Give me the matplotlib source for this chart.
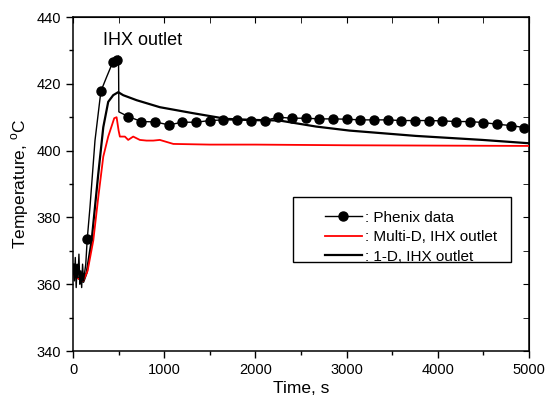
import matplotlib
matplotlib.use("Agg")
import matplotlib.pyplot as plt
from matplotlib.ticker import MultipleLocator
from matplotlib.patches import Rectangle

plt.rcParams['font.family'] = ['Liberation Sans', 'DejaVu Sans']
plt.rcParams['mathtext.fontset'] = 'custom'
plt.rcParams['mathtext.rm'] = 'Liberation Sans'

# Phenix measured data (dense line, markers on a subset)
phx_t = [0, 15, 25, 35, 45, 55, 65, 75, 85, 95, 105, 115, 125, 140, 156,
         186, 241, 306, 368, 438, 478, 499, 503, 605, 750, 900, 1050, 1200,
         1350, 1500, 1650, 1800, 1950, 2100, 2250, 2400, 2550, 2700, 2850,
         3000, 3150, 3300, 3450, 3600, 3750, 3900, 4050, 4200, 4350, 4500,
         4650, 4800, 4950, 5000]
phx_T = [365, 361, 368, 359, 366, 362, 369, 360, 364, 359, 366, 361, 363, 366, 373.5,
         383, 403, 417.8, 422, 426.6, 427.1, 428.3, 411.6, 410.2, 408.7, 408.6, 407.7,
         408.5, 408.5, 409.0, 409.2, 409.2, 409.0, 409.0, 410.0, 409.7, 409.7, 409.5,
         409.5, 409.4, 409.2, 409.2, 409.2, 409.0, 409.0, 409.0, 408.9, 408.7, 408.7,
         408.4, 407.9, 407.5, 406.9, 406.8]
phx_marks = [0, 14, 17, 19, 20] + list(range(23, 53))

# Multi-D, IHX outlet
md_t = [0, 50, 113, 160, 222, 277, 332, 386, 452, 478, 500, 514, 569, 605, 660,
        733, 806, 880, 952, 1100, 1500, 2000, 3000, 4000, 5000]
md_T = [362.8, 361.8, 361, 364, 373, 386, 398.2, 404.2, 409.7, 410, 406, 404.2, 404.2,
        403.2, 404.2, 403.2, 403, 403, 403.2, 402, 401.8, 401.8, 401.6, 401.5, 401.4]

# 1-D, IHX outlet
od_t = [0, 50, 113, 150, 204, 277, 332, 386, 441, 496, 550, 697, 952, 1317,
        1682, 1973, 2265, 2666, 3030, 3760, 4489, 5000]
od_T = [363, 362, 360.7, 363.5, 373, 393, 407, 414.6, 416.6, 417.5, 416.6, 415.1,
        413, 411.2, 409.5, 409.2, 409, 407.2, 406, 404.4, 403.2, 402.2]

fig = plt.figure(figsize=(5.46, 4.05), dpi=100)
ax = fig.add_axes([0.1337, 0.1333, 0.8352, 0.8247])

ax.plot(od_t, od_T, color='black', lw=1.6, label=': 1-D, IHX outlet', zorder=2)
ax.plot(md_t, md_T, color='red', lw=1.3, label=': Multi-D, IHX outlet', zorder=3)
ax.plot(phx_t, phx_T, color='black', lw=1.0, marker='o', ms=6.5,
        markevery=phx_marks, label=': Phenix data', zorder=4)

ax.set_xlim(0, 5000)
ax.set_ylim(340, 440)
ax.xaxis.set_major_locator(MultipleLocator(1000))
ax.xaxis.set_minor_locator(MultipleLocator(500))
ax.yaxis.set_major_locator(MultipleLocator(20))
ax.yaxis.set_minor_locator(MultipleLocator(10))
ax.tick_params(which='major', direction='out', length=5, width=1, labelsize=10.5)
ax.tick_params(which='minor', direction='out', length=3, width=1)
for s in ax.spines.values():
    s.set_linewidth(1.1)

# mirrored inward ticks on top and right
top = ax.secondary_xaxis('top')
top.xaxis.set_major_locator(MultipleLocator(1000))
top.xaxis.set_minor_locator(MultipleLocator(500))
top.tick_params(which='both', direction='in', length=4, labeltop=False)
right = ax.secondary_yaxis('right')
right.yaxis.set_major_locator(MultipleLocator(20))
right.yaxis.set_minor_locator(MultipleLocator(10))
right.tick_params(which='both', direction='in', length=4, labelright=False)

ax.set_xlabel('Time, s', fontsize=12.5, labelpad=3)
ax.set_ylabel(r'Temperature, $^{\rm o}$C', fontsize=12.5, labelpad=4)

ax.text(330, 433, 'IHX outlet', fontsize=13, va='center', ha='left')

h, l = ax.get_legend_handles_labels()
order = [2, 1, 0]
ax.legend([h[i] for i in order], [l[i] for i in order], loc='upper left',
          bbox_to_anchor=(0.552, 0.42), frameon=False, fontsize=11,
          handlelength=2.42, handletextpad=0.2, labelspacing=0.36,
          borderaxespad=0, borderpad=0)
ax.add_patch(Rectangle((0.482, 0.266), 0.479, 0.196, transform=ax.transAxes,
                       fill=False, edgecolor='black', lw=1.0, zorder=5))

fig.savefig('out.png', dpi=100)
